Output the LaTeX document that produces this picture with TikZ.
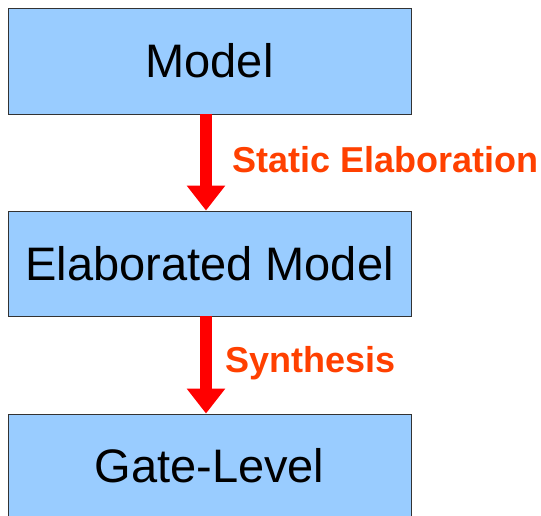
\documentclass[tikz,border=0pt]{standalone}
\usepackage{fontspec}
\setmainfont{Liberation Sans}
\usetikzlibrary{arrows.meta}
\definecolor{boxblue}{HTML}{99CCFF}
\definecolor{labred}{HTML}{FF4000}
\begin{document}
\begin{tikzpicture}[x=1pt,y=1pt,
  stage/.style={draw=black!80, line width=0.9pt, fill=boxblue, minimum width=403pt, inner sep=0pt, font=\fontsize{47}{50}\selectfont},
  flow/.style={draw=red, line width=12pt, -{Triangle[width=37pt,length=25pt]}, shorten >=0pt},
  lab/.style={text=labred, font=\bfseries\fontsize{36}{40}\selectfont, anchor=base west, inner sep=0pt}]
\useasboundingbox (0,0) rectangle (541,-515);
\begin{scope}
\clip (0,0) rectangle (541,-515);
\node[stage, minimum height=106pt] (m) at (209.5,-61) {Model};
\node[stage, minimum height=105pt] (e) at (209.5,-263.5) {Elaborated Model};
\node[stage, minimum height=116pt] (g) at (209.5,-472) {};
\node[font=\fontsize{47}{50}\selectfont, inner sep=0pt] (gt) at (209.5,-466) {Gate-Level};
\end{scope}
\draw[flow] ([xshift=-3.5pt]m.south) -- ([xshift=-3.5pt]e.north);
\draw[flow] ([xshift=-3.5pt]e.south) -- ([xshift=-3.5pt]g.north);
\node[lab] (l1) at (232,-172) {Static Elaboration};
\node[lab] (l2) at (225,-372) {Synthesis};
\end{tikzpicture}
\end{document}
